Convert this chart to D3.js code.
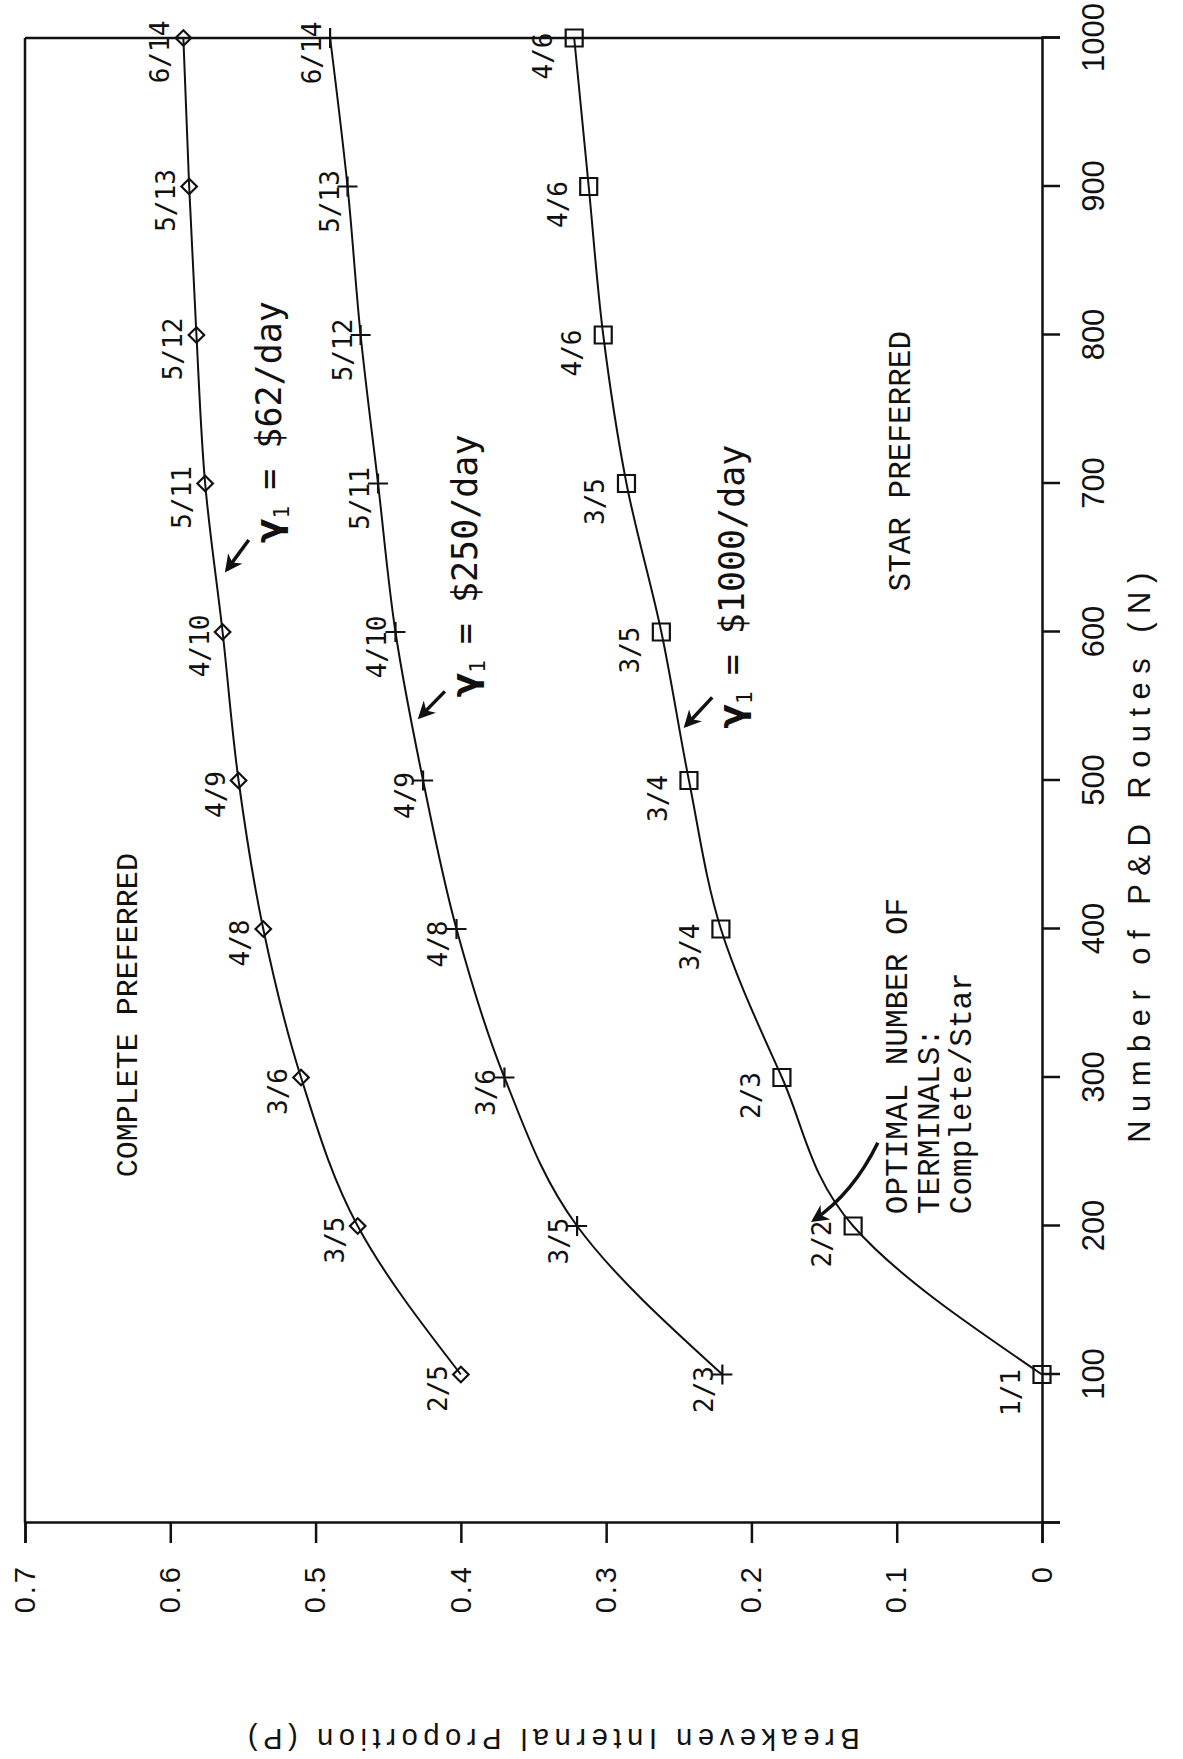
<!DOCTYPE html>
<html>
<head>
<meta charset="utf-8">
<script src="https://cdn.jsdelivr.net/npm/d3@7"></script>
<style>
  body { margin: 0; background: #fff; }
</style>
</head>
<body>
<div class="chart"></div>
<script>
// Page is portrait, the chart is drawn landscape and turned a quarter left
const pageW = 1183;
const pageH = 1759;
const width = pageH;
const height = pageW;
const margin = {top: 25, right: 38, bottom: 141, left: 236};
const inner_width = width - margin.left - margin.right;
const inner_height = height - margin.top - margin.bottom;

// Data
const routes = [100, 200, 300, 400, 500, 600, 700, 800, 900, 1000];
const p62 = [0.40, 0.471, 0.51, 0.536, 0.553, 0.564, 0.576, 0.582, 0.587, 0.591];
const p250 = [0.22, 0.32, 0.37, 0.403, 0.426, 0.445, 0.457, 0.469, 0.478, 0.49];
const p1000 = [0, 0.13, 0.179, 0.221, 0.243, 0.262, 0.286, 0.302, 0.312, 0.322];
const terminals62 = ['2/5', '3/5', '3/6', '4/8', '4/9', '4/10', '5/11', '5/12', '5/13', '6/14'];
const terminals250 = ['2/3', '3/5', '3/6', '4/8', '4/9', '4/10', '5/11', '5/12', '5/13', '6/14'];
const terminals1000 = ['1/1', '2/2', '2/3', '3/4', '3/4', '3/5', '3/5', '4/6', '4/6', '4/6'];
const costs = ['$62/day', '$250/day', '$1000/day'];
const nTicks = [0, 100, 200, 300, 400, 500, 600, 700, 800, 900, 1000];
const pTicks = [0, 0.1, 0.2, 0.3, 0.4, 0.5, 0.6, 0.7];

const series = [
    {cost: costs[0], values: p62, labels: terminals62, symbol: 'diamond', lab: [-14, -23]},
    {cost: costs[1], values: p250, labels: terminals250, symbol: 'plus', lab: [-15, -18]},
    {cost: costs[2], values: p1000, labels: terminals1000, symbol: 'square', lab: [-18, -31]}
];

const svg = d3.select('.chart').append('svg')
    .attr('width', pageW)
    .attr('height', pageH)
    .style('background', '#fff');

const frame = svg.append('g')
    .attr('transform', `translate(0, ${pageH}) rotate(-90)`);

const chart = frame.append('g')
    .attr('transform', `translate(${margin.left}, ${margin.top})`);

const xScale = d3.scaleLinear().domain([0, 1000]).range([0, inner_width]);
const yScale = d3.scaleLinear().domain([0, 0.7]).range([inner_height, 0]);

const ink = '#111';
const tickFont = '"Liberation Sans", Arial, sans-serif';
const monoFont = '"DejaVu Sans Mono", monospace';
const typeFont = '"Liberation Mono", "Courier New", monospace';

// Axes
chart.append('g')
    .attr('transform', `translate(0, ${inner_height})`)
    .call(d3.axisBottom(xScale).tickValues(nTicks).tickSize(18).tickPadding(22)
        .tickFormat(d => d === 0 ? '' : d))
    .call(g => g.selectAll('path, line').attr('stroke', ink).attr('stroke-width', 2.5))
    .call(g => g.selectAll('text')
        .attr('fill', ink)
        .style('font-family', tickFont)
        .style('font-size', '31px'));

chart.append('g')
    .call(d3.axisLeft(yScale).tickValues(pTicks).tickSize(20).tickPadding(21)
        .tickFormat(d => d === 0 ? '0' : d3.format('.1f')(d)))
    .call(g => g.selectAll('path, line').attr('stroke', ink).attr('stroke-width', 2.5))
    .call(g => g.selectAll('text')
        .attr('fill', ink)
        .style('font-family', tickFont)
        .style('font-size', '29px')
        .style('letter-spacing', '3px'));

// Frame top and right
chart.append('line')
    .attr('x1', xScale(0)).attr('x2', xScale(1000))
    .attr('y1', yScale(0.7)).attr('y2', yScale(0.7))
    .attr('stroke', ink).attr('stroke-width', 2.5);
chart.append('line')
    .attr('x1', xScale(1000)).attr('x2', xScale(1000))
    .attr('y1', yScale(0)).attr('y2', yScale(0.7))
    .attr('stroke', ink).attr('stroke-width', 2.5);

// Axis titles
chart.append('text')
    .attr('x', xScale(448))
    .attr('y', inner_height + 108)
    .attr('text-anchor', 'middle')
    .attr('textLength', 570)
    .attr('lengthAdjust', 'spacing')
    .attr('fill', ink)
    .style('font-family', tickFont)
    .style('font-size', '31px')
    .text('Number of P&D Routes (N)');

chart.append('text')
    .attr('transform', `translate(${30 - margin.left}, ${yScale(0.336)}) rotate(-90)`)
    .attr('text-anchor', 'middle')
    .attr('textLength', 612)
    .attr('lengthAdjust', 'spacing')
    .attr('fill', ink)
    .style('font-family', tickFont)
    .style('font-size', '29px')
    .text('Breakeven Internal Proportion (P)');

// Curves, markers and terminal labels
const line = d3.line()
    .x((d, i) => xScale(routes[i]))
    .y(d => yScale(d))
    .curve(d3.curveMonotoneX);

series.forEach(s => {
    const g = chart.append('g');
    g.append('path')
        .attr('d', line(s.values))
        .attr('fill', 'none')
        .attr('stroke', ink)
        .attr('stroke-width', 2);

    const pts = g.selectAll('g.pt')
        .data(s.values)
        .join('g')
            .attr('class', 'pt')
            .attr('transform', (d, i) => `translate(${xScale(routes[i])}, ${yScale(d)})`);

    if (s.symbol === 'square') {
        pts.append('path')
            .attr('d', d3.symbol(d3.symbolSquare, 17 * 17))
            .attr('fill', 'none').attr('stroke', ink).attr('stroke-width', 2.2);
    } else if (s.symbol === 'diamond') {
        pts.append('path')
            .attr('d', d3.symbol(d3.symbolSquare, 11 * 11))
            .attr('transform', 'rotate(45)')
            .attr('fill', 'none').attr('stroke', ink).attr('stroke-width', 2.2);
    } else {
        pts.append('path')
            .attr('d', 'M-10,0H10M0,-10V10')
            .attr('fill', 'none').attr('stroke', ink).attr('stroke-width', 2.2);
    }

    g.selectAll('text')
        .data(s.labels)
        .join('text')
            .attr('x', (d, i) => xScale(routes[i]) + s.lab[0])
            .attr('y', (d, i) => yScale(s.values[i]) + s.lab[1])
            .attr('text-anchor', 'middle')
            .attr('dominant-baseline', 'central')
            .attr('fill', ink)
            .style('font-family', monoFont)
            .style('font-size', '26px')
            .text(d => d);
});

// Arrow heads
const defs = svg.append('defs');
defs.append('marker')
    .attr('id', 'head')
    .attr('viewBox', '0 0 10 10')
    .attr('refX', 8).attr('refY', 5)
    .attr('markerWidth', 5).attr('markerHeight', 5)
    .attr('markerUnits', 'strokeWidth')
    .attr('orient', 'auto')
    .append('path')
        .attr('d', 'M0,0L10,5L0,10L3,5Z')
        .attr('fill', ink);

// Cost annotations with short arrows
const costNotes = [
    {cost: costs[0], at: [660, 0.524], tail: [662, 0.546], head: [642, 0.561]},
    {cost: costs[1], at: [556, 0.389], tail: [560, 0.411], head: [543, 0.428]},
    {cost: costs[2], at: [535, 0.205], tail: [556, 0.227], head: [537, 0.245]}
];

costNotes.forEach(n => {
    const t = chart.append('text')
        .attr('x', xScale(n.at[0]))
        .attr('y', yScale(n.at[1]))
        .attr('fill', ink)
        .style('font-family', monoFont);
    t.append('tspan')
        .style('font-family', '"DejaVu Sans", sans-serif')
        .style('font-weight', 'bold')
        .style('font-size', '36px')
        .text('γ');
    t.append('tspan')
        .attr('dy', 8)
        .style('font-size', '21px')
        .text('1');
    t.append('tspan')
        .attr('dy', -8)
        .attr('dx', 16)
        .style('font-size', '35px')
        .text('=');
    t.append('tspan')
        .attr('dx', 20)
        .style('font-size', '35px')
        .text(n.cost);

    chart.append('line')
        .attr('x1', xScale(n.tail[0])).attr('y1', yScale(n.tail[1]))
        .attr('x2', xScale(n.head[0])).attr('y2', yScale(n.head[1]))
        .attr('stroke', ink)
        .attr('stroke-width', 3.5)
        .attr('marker-end', 'url(#head)');
});

// Region labels
chart.append('text')
    .attr('x', xScale(342))
    .attr('y', yScale(0.623))
    .attr('text-anchor', 'middle')
    .attr('fill', ink)
    .style('font-family', typeFont)
    .style('font-size', '30px')
    .text('COMPLETE PREFERRED');

chart.append('text')
    .attr('x', xScale(715))
    .attr('y', yScale(0.091))
    .attr('text-anchor', 'middle')
    .attr('fill', ink)
    .style('font-family', typeFont)
    .style('font-size', '31px')
    .text('STAR PREFERRED');

const note = chart.append('text')
    .attr('x', xScale(208))
    .attr('y', yScale(0.093))
    .attr('fill', ink)
    .style('font-family', typeFont)
    .style('font-size', '31px');
['OPTIMAL NUMBER OF', 'TERMINALS:', 'Complete/Star'].forEach((s, i) => {
    note.append('tspan')
        .attr('x', xScale(208))
        .attr('dy', i === 0 ? 0 : 32)
        .text(s);
});

// Curved pointer to the 2/2 label
const bend = d3.path();
bend.moveTo(xScale(256), yScale(0.113));
bend.quadraticCurveTo(xScale(222), yScale(0.13), xScale(204), yScale(0.157));
chart.append('path')
    .attr('d', bend.toString())
    .attr('fill', 'none')
    .attr('stroke', ink)
    .attr('stroke-width', 3.5)
    .attr('marker-end', 'url(#head)');
</script>
</body>
</html>
